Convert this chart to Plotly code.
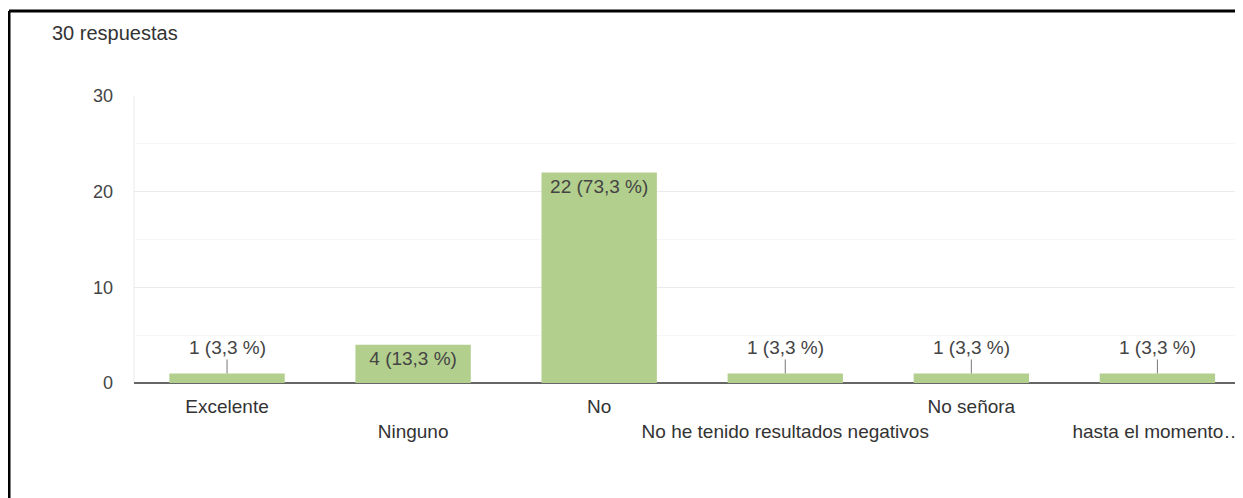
import plotly.graph_objects as go

categories = ["Excelente", "Ninguno", "No", "No he tenido resultados negativos", "No señora", "hasta el momento…"]
tick_labels = ["Excelente", "<br>Ninguno", "No", "<br>No he tenido resultados negativos", "No señora", "<br>hasta el momento…"]
counts = [1, 4, 22, 1, 1, 1]
percents = ["3,3", "13,3", "73,3", "3,3", "3,3", "3,3"]
subtitle = "30 respuestas"
y_ticks = [0, 10, 20, 30]

labels = [f"{c} ({p} %)" for c, p in zip(counts, percents)]
xs = list(range(len(categories)))

# page body has an 8px margin, so figure coords = page coords - 8
OFF = 8
W, H = 1243 - OFF, 498 - OFF
L, R, T, B = 134 - OFF, 0, 96 - OFF, 498 - 383
pw, ph = W - L - R, H - T - B

font_family = "Liberation Sans, Arial, sans-serif"
txt_color = "#444444"

inside_text = [lab if c >= 4 else "" for lab, c in zip(labels, counts)]

fig = go.Figure()
fig.add_trace(go.Bar(
    x=xs, y=counts,
    marker=dict(color="#b3cf8e", line=dict(width=0)),
    width=0.62,
    text=inside_text,
    textposition="inside",
    insidetextanchor="end",
    textangle=0,
    textfont=dict(family=font_family, size=19, color=txt_color),
    cliponaxis=False,
    hoverinfo="skip",
))

annotations = []
for x, c, lab in zip(xs, counts, labels):
    if c < 4:
        annotations.append(dict(
            x=x, y=c, xref="x", yref="y",
            text=lab, showarrow=True, arrowhead=0, arrowwidth=1,
            arrowcolor="#777777", ax=0, ay=-26,
            font=dict(family=font_family, size=19, color=txt_color),
        ))

annotations.append(dict(
    x=(50 - OFF - L) / pw, y=1 + (T - (33 - OFF)) / ph, xref="paper", yref="paper",
    text=subtitle, showarrow=False, xanchor="left", yanchor="middle",
    font=dict(family=font_family, size=20, color="#333333"),
))

bx = (9 - OFF - L) / pw
by = 1 + (T - (11 - OFF)) / ph
shapes = [
    dict(type="line", xref="paper", yref="paper",
         x0=bx, x1=1.0, y0=by, y1=by,
         line=dict(color="black", width=3)),
    dict(type="line", xref="paper", yref="paper",
         x0=bx, x1=bx, y0=by, y1=-(B + 10) / ph,
         line=dict(color="black", width=3)),
    dict(type="line", xref="paper", yref="paper",
         x0=0, x1=0, y0=0, y1=1, line=dict(color="#ebebeb", width=1), layer="below"),
]

fig.update_layout(
    width=W, height=H,
    margin=dict(l=L, r=R, t=T, b=B, pad=0, autoexpand=False),
    paper_bgcolor="white", plot_bgcolor="white",
    showlegend=False,
    annotations=annotations,
    shapes=shapes,
    font=dict(family=font_family, size=18, color=txt_color),
)
fig.update_xaxes(
    range=[-0.5, 5.46],
    tickmode="array", tickvals=xs, ticktext=tick_labels,
    tickangle=0, automargin=False,
    showgrid=False, zeroline=False, showline=False, ticks="",
    ticklabelstandoff=10,
    tickfont=dict(family=font_family, size=19, color="#333333"),
    fixedrange=True,
)
fig.update_yaxes(
    range=[0, 30],
    tickmode="array", tickvals=y_ticks, automargin=False,
    showgrid=True, gridcolor="#ebebeb", gridwidth=1,
    minor=dict(tickvals=[5, 15, 25], showgrid=True, gridcolor="#f6f6f6", gridwidth=1),
    zeroline=True, zerolinecolor="#666666", zerolinewidth=2,
    showline=False, ticks="",
    ticklabelstandoff=20,
    tickfont=dict(family=font_family, size=18, color="#444444"),
    fixedrange=True,
)

fig.write_html("out.html", config={"displayModeBar": False})
